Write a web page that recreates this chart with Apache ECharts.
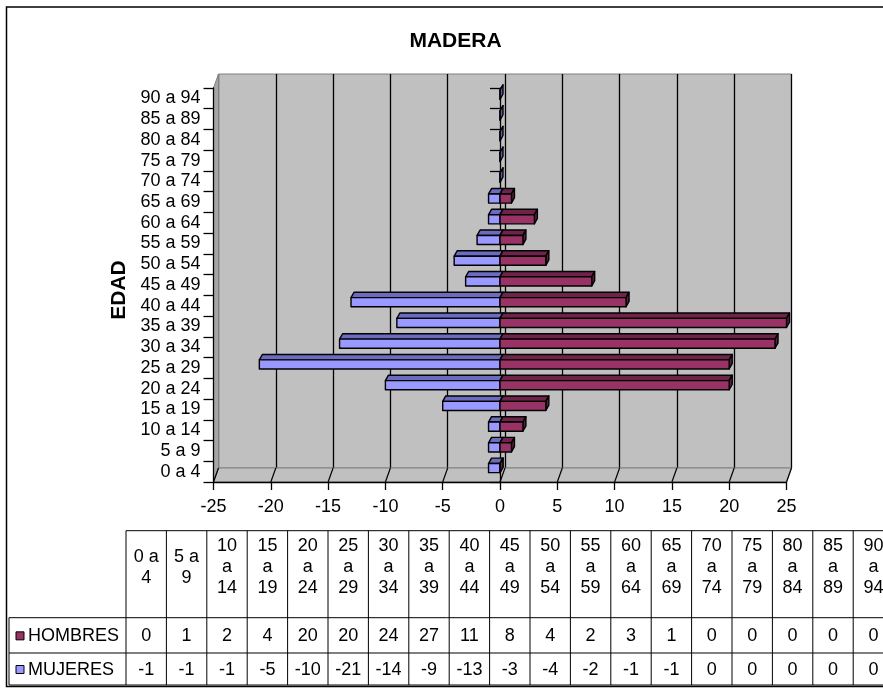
<!DOCTYPE html>
<html>
<head>
<meta charset="utf-8">
<script src="https://cdn.jsdelivr.net/npm/echarts@6/dist/echarts.min.js"></script>
<style>html,body{margin:0;padding:0;background:#fff}#c{width:883px;height:688px}</style>
</head>
<body>
<div id="c"></div>
<script>
// ---------- data ----------
const chartTitle = 'MADERA';
const axisTitle = 'EDAD';
const categories = ['0 a 4','5 a 9','10 a 14','15 a 19','20 a 24','25 a 29','30 a 34','35 a 39','40 a 44','45 a 49','50 a 54','55 a 59','60 a 64','65 a 69','70 a 74','75 a 79','80 a 84','85 a 89','90 a 94'];
const seriesNames = ['HOMBRES','MUJERES'];
const hombres = [0,1,2,4,20,20,24,27,11,8,4,2,3,1,0,0,0,0,0];
const mujeres = [-1,-1,-1,-5,-10,-21,-14,-9,-13,-3,-4,-2,-1,-1,0,0,0,0,0];
const xTicks = [-25,-20,-15,-10,-5,0,5,10,15,20,25];

// ---------- styles / layout ----------
const FONT = '"Liberation Sans", Arial, sans-serif';
const FS = 18;
const COLORS = {
  HOMBRES: {front:'#993366', top:'#6e2349', side:'#5e1d3e'},
  MUJERES: {front:'#9999ff', top:'#6b6bbf', side:'#5a5aa8'}
};
const FRONT = {left:213.5, top:88, width:573, height:394};
const DEPTH = {dx:5, dy:-14};
const X_MIN = xTicks[0], X_MAX = xTicks[xTicks.length-1], X_INT = xTicks[1]-xTicks[0];
const TBL = {left:9, firstCol:126, colW:40.4, yTop:530.7, yHead:617.7, yRow1:653, yBot:685};

const chart = echarts.init(document.getElementById('c'), null, {renderer:'canvas'});

function bar3d(name, values, other, skipZeroIfOtherZero){
  const col = COLORS[name];
  return function(params, api){
    const i = api.value(0);
    let v = api.value(1);
    if (skipZeroIfOtherZero && v === 0 && other[i] === 0) return null;
    v = Math.max(X_MIN, Math.min(X_MAX, v));
    const p = api.coord([v, i]);
    const z = api.coord([0, i]);
    const band = api.size([0, 1])[1];
    const c = p[1];
    const yb = c + band*0.05, yt = c - band*0.39;
    const dx = 3, dy = band*0.26;
    const x0 = Math.min(p[0], z[0]), x1 = Math.max(p[0], z[0]);
    const st = {stroke:'#000', lineWidth:1.4, lineJoin:'round'};
    return {type:'group', children:[
      {type:'polygon', shape:{points:[[x0,yt],[x0+dx,yt-dy],[x1+dx,yt-dy],[x1,yt]]}, style:Object.assign({fill:col.top}, st)},
      {type:'polygon', shape:{points:[[x1,yt],[x1+dx,yt-dy],[x1+dx,yb-dy],[x1,yb]]}, style:Object.assign({fill:col.side}, st)},
      {type:'rect', shape:{x:x0, y:yt, width:x1-x0, height:yb-yt}, style:Object.assign({fill:col.front}, st)}
    ]};
  };
}

const option = {
  animation:false,
  backgroundColor:'#ffffff',
  grid:[
    {left:FRONT.left+DEPTH.dx, top:FRONT.top+DEPTH.dy, width:FRONT.width, height:FRONT.height,
     show:true, backgroundColor:'#c0c0c0', borderColor:'#808080', borderWidth:1, containLabel:false, outerBoundsMode:'none'},
    {left:FRONT.left, top:FRONT.top, width:FRONT.width, height:FRONT.height, containLabel:false, outerBoundsMode:'none'}
  ],
  xAxis:[
    {gridIndex:0, type:'value', min:X_MIN, max:X_MAX, interval:X_INT, z:0,
     axisLine:{show:false}, axisTick:{show:false}, axisLabel:{show:false},
     splitLine:{show:true, lineStyle:{color:'#000', width:1.3}}},
    {gridIndex:1, type:'value', min:X_MIN, max:X_MAX, interval:X_INT, z:3,
     axisLine:{show:true, onZero:false, lineStyle:{color:'#000', width:1.3}},
     axisTick:{show:true, length:8, lineStyle:{color:'#000', width:1.3}},
     axisLabel:{show:true, margin:16, color:'#000', fontSize:FS, fontFamily:FONT},
     splitLine:{show:false}}
  ],
  yAxis:[
    {gridIndex:0, type:'category', data:categories, show:false},
    {gridIndex:1, type:'category', data:categories, position:'left', z:3,
     axisLine:{show:true, onZero:false, lineStyle:{color:'#000', width:1.3}},
     axisTick:{show:true, length:10, interval:0, alignWithLabel:false, lineStyle:{color:'#000', width:1.3}},
     axisLabel:{show:true, interval:0, margin:13, color:'#000', fontSize:FS, fontFamily:FONT},
     splitLine:{show:false}},
    {gridIndex:1, type:'category', data:categories, position:'right', z:4,
     axisLine:{show:true, onZero:true, lineStyle:{color:'#000', width:1.3}},
     axisTick:{show:true, inside:true, interval:0, length:10, alignWithLabel:false, lineStyle:{color:'#000', width:1.3}},
     axisLabel:{show:false}, splitLine:{show:false}}
  ],
  series:[
    {name:'MUJERES', type:'custom', xAxisIndex:1, yAxisIndex:1, z:5,
     renderItem: bar3d('MUJERES', mujeres, hombres, false),
     encode:{y:0, x:1},
     data: categories.map((c,i)=>[i, mujeres[i]])},
    {name:'HOMBRES', type:'custom', xAxisIndex:1, yAxisIndex:1, z:6,
     renderItem: bar3d('HOMBRES', hombres, mujeres, true),
     encode:{y:0, x:1},
     data: categories.map((c,i)=>[i, hombres[i]])}
  ]
};
chart.setOption(option);

// ---------- decorations: floor, side wall, title, table ----------
const g = [];
g.push({type:'rect', z:0, shape:{x:6.5, y:7, width:890, height:679.5}, style:{fill:null, stroke:'#000', lineWidth:1.5}});
const L = FRONT.left, T = FRONT.top, B = FRONT.top+FRONT.height, R = FRONT.left+FRONT.width;
g.push({type:'polygon', z:1, shape:{points:[[L,T],[L+DEPTH.dx,T+DEPTH.dy],[L+DEPTH.dx,B+DEPTH.dy],[L,B]]}, style:{fill:'#a6a6a6', stroke:'#808080', lineWidth:1}});
g.push({type:'polygon', z:1, shape:{points:[[L,B],[L+DEPTH.dx,B+DEPTH.dy],[R+DEPTH.dx,B+DEPTH.dy],[R,B]]}, style:{fill:'#c0c0c0', stroke:'#808080', lineWidth:1}});
xTicks.forEach(t=>{
  const x = chart.convertToPixel({xAxisIndex:1}, t);
  g.push({type:'line', z:2, shape:{x1:x, y1:B, x2:x+DEPTH.dx, y2:B+DEPTH.dy}, style:{stroke:'#000', lineWidth:1.2}});
});
g.push({type:'text', z:10, x:455.5, y:41, style:{text:chartTitle, textAlign:'center', textVerticalAlign:'middle', font:'bold 21px '+FONT, fill:'#000'}});
g.push({type:'text', z:10, x:119, y:290, rotation:Math.PI/2, style:{text:axisTitle, textAlign:'center', textVerticalAlign:'middle', font:'bold 21px '+FONT, fill:'#000'}});

// table
const lineSt = {stroke:'#000', lineWidth:1};
const nC = categories.length;
const colX = i => TBL.firstCol + i*TBL.colW;
const tableRight = colX(nC);
g.push({type:'line', z:10, shape:{x1:TBL.firstCol, y1:TBL.yTop, x2:tableRight, y2:TBL.yTop}, style:lineSt});
[TBL.yHead, TBL.yRow1, TBL.yBot].forEach(y=>g.push({type:'line', z:10, shape:{x1:TBL.left, y1:y, x2:tableRight, y2:y}, style:lineSt}));
g.push({type:'line', z:10, shape:{x1:TBL.left, y1:TBL.yHead, x2:TBL.left, y2:TBL.yBot}, style:lineSt});
for (let i=0;i<=nC;i++) g.push({type:'line', z:10, shape:{x1:colX(i), y1:TBL.yTop, x2:colX(i), y2:TBL.yBot}, style:lineSt});

const cv = document.createElement('canvas').getContext('2d');
cv.font = FS + 'px ' + FONT;
function wrap(label, maxW){
  const words = label.split(' '); const lines = []; let cur = '';
  words.forEach(w=>{
    const t = cur ? cur + ' ' + w : w;
    if (cur && cv.measureText(t).width > maxW){ lines.push(cur); cur = w; } else cur = t;
  });
  if (cur) lines.push(cur);
  return lines.join('\n');
}
const headMid = 567.5;
const tf = FS + 'px ' + FONT;
categories.forEach((c,i)=>{
  const cx = colX(i) + TBL.colW/2;
  g.push({type:'text', z:11, x:cx, y:headMid, style:{text:wrap(c, 30), textAlign:'center', textVerticalAlign:'middle', font:tf, lineHeight:21, fill:'#000'}});
  g.push({type:'text', z:11, x:cx, y:(TBL.yHead+TBL.yRow1)/2+1, style:{text:String(hombres[i]), textAlign:'center', textVerticalAlign:'middle', font:tf, fill:'#000'}});
  g.push({type:'text', z:11, x:cx, y:(TBL.yRow1+TBL.yBot)/2+1, style:{text:String(mujeres[i]), textAlign:'center', textVerticalAlign:'middle', font:tf, fill:'#000'}});
});
[[seriesNames[0], (TBL.yHead+TBL.yRow1)/2], [seriesNames[1], (TBL.yRow1+TBL.yBot)/2]].forEach(([n,y])=>{
  g.push({type:'rect', z:11, shape:{x:16, y:y-3.5, width:8, height:8}, style:{fill:COLORS[n].front, stroke:'#000', lineWidth:1}});
  g.push({type:'text', z:11, x:28, y:y+1, style:{text:n, textAlign:'left', textVerticalAlign:'middle', font:tf, fill:'#000'}});
});

chart.setOption({graphic:{elements:g}});
</script>
</body>
</html>
